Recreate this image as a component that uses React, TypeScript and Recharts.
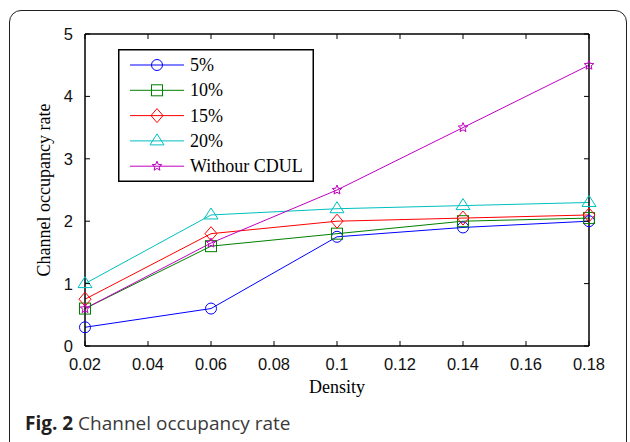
import React from "react";
import { LineChart, Line, XAxis, YAxis, Legend, Label } from "recharts";

const density = [0.02, 0.06, 0.1, 0.14, 0.18];
const rate5 = [0.3, 0.6, 1.75, 1.9, 2.0];
const rate10 = [0.6, 1.6, 1.8, 2.0, 2.05];
const rate15 = [0.75, 1.8, 2.0, 2.05, 2.1];
const rate20 = [1.0, 2.1, 2.2, 2.25, 2.3];
const rateNoCdul = [0.6, 1.65, 2.5, 3.5, 4.5];

const xTicks = [0.02, 0.04, 0.06, 0.08, 0.1, 0.12, 0.14, 0.16, 0.18];
const yTicks = [0, 1, 2, 3, 4, 5];

const series = [
  { key: "r5", name: "5%", color: "#0000ff", shape: "circle" },
  { key: "r10", name: "10%", color: "#008000", shape: "square" },
  { key: "r15", name: "15%", color: "#ff0000", shape: "diamond" },
  { key: "r20", name: "20%", color: "#00bfbf", shape: "triangle" },
  { key: "none", name: "Withour CDUL", color: "#bf00bf", shape: "star" },
];

const data = density.map((d, i) => ({
  density: d,
  r5: rate5[i],
  r10: rate10[i],
  r15: rate15[i],
  r20: rate20[i],
  none: rateNoCdul[i],
}));

const SANS = "'Liberation Sans', Arial, sans-serif";
const SERIF = "'Liberation Serif', 'Times New Roman', serif";

function starPoints(cx: number, cy: number, ro: number, ri: number) {
  const pts: string[] = [];
  for (let k = 0; k < 10; k++) {
    const r = k % 2 === 0 ? ro : ri;
    const a = -Math.PI / 2 + (k * Math.PI) / 5;
    pts.push(`${cx + r * Math.cos(a)},${cy + r * Math.sin(a)}`);
  }
  return pts.join(" ");
}

function Marker({ shape, cx, cy, color }: { shape: string; cx: number; cy: number; color: string }) {
  const common = { fill: "none", stroke: color, strokeWidth: 1 };
  if (shape === "circle") return <circle cx={cx} cy={cy} r={5.5} {...common} />;
  if (shape === "square") return <rect x={cx - 5.5} y={cy - 5.5} width={11} height={11} {...common} />;
  if (shape === "diamond")
    return <polygon points={`${cx},${cy - 7} ${cx + 6},${cy} ${cx},${cy + 7} ${cx - 6},${cy}`} {...common} />;
  if (shape === "triangle")
    return <polygon points={`${cx},${cy - 7} ${cx + 7},${cy + 4} ${cx - 7},${cy + 4}`} {...common} />;
  return <polygon points={starPoints(cx, cy, 5, 2.2)} {...common} />;
}

const renderDot = (shape: string, color: string) => (props: any) => (
  <g key={`${shape}-${props.index}`}>
    <Marker shape={shape} cx={props.cx} cy={props.cy} color={color} />
  </g>
);

const BottomTick = (props: any) => {
  const { x, y, payload } = props;
  return (
    <g>
      <line x1={x} y1={y} x2={x} y2={y - 5} stroke="#000" strokeWidth={1} />
      <text x={x} y={y + 24} textAnchor="middle" fontFamily={SANS} fontSize={16.5} fill="#111">
        {String(payload.value)}
      </text>
    </g>
  );
};

const LeftTick = (props: any) => {
  const { x, y, payload } = props;
  return (
    <g>
      <line x1={x} y1={y} x2={x + 5} y2={y} stroke="#000" strokeWidth={1} />
      <text x={x - 12} y={y + 6} textAnchor="end" fontFamily={SANS} fontSize={16.5} fill="#111">
        {String(payload.value)}
      </text>
    </g>
  );
};

const TopTick = (props: any) => (
  <line x1={props.x} y1={props.y} x2={props.x} y2={props.y + 5} stroke="#000" strokeWidth={1} />
);

const RightTick = (props: any) => (
  <line x1={props.x} y1={props.y} x2={props.x - 5} y2={props.y} stroke="#000" strokeWidth={1} />
);

const LegendBox = () => (
  <svg width={196} height={133} style={{ display: "block" }}>
    <rect x={0.75} y={0.75} width={194.5} height={131.5} fill="#fff" stroke="#000" strokeWidth={1.5} />
    {series.map((s, i) => {
      const cy = 16 + i * 25.3;
      return (
        <g key={s.key}>
          <line x1={12} y1={cy} x2={66} y2={cy} stroke={s.color} strokeWidth={1} />
          <Marker shape={s.shape} cx={39} cy={cy} color={s.color} />
          <text x={72} y={cy + 6} fontFamily={SERIF} fontSize={18} fill="#000">
            {s.name}
          </text>
        </g>
      );
    })}
  </svg>
);

export default function App() {
  return (
    <div
      style={{
        position: "absolute",
        left: 0,
        top: 0,
        width: 630,
        height: 442,
        overflow: "hidden",
        background: "#fff",
      }}
    >
      <div
        style={{
          position: "absolute",
          left: 9,
          top: 10,
          width: 616,
          height: 460,
          border: "1.5px solid #231f20",
          borderRadius: 12,
        }}
      />
      <div style={{ position: "absolute", left: 0, top: 0 }}>
        <LineChart width={630} height={410} data={data} margin={{ top: 24, right: 31, bottom: 14, left: 25 }}>
          <XAxis
            dataKey="density"
            type="number"
            domain={[0.02, 0.18]}
            ticks={xTicks}
            tickSize={0}
            tickMargin={0}
            tick={<BottomTick />}
            tickLine={false}
            axisLine={{ stroke: "#000", strokeWidth: 1.5 }}
            height={50}
            interval={0}
          >
            <Label value="Density" position="insideBottom" offset={3} fontFamily={SERIF} fontSize={18} fill="#000" />
          </XAxis>
          <XAxis
            xAxisId="top"
            dataKey="density"
            orientation="top"
            type="number"
            domain={[0.02, 0.18]}
            ticks={xTicks}
            tickSize={0}
            tickMargin={0}
            tick={<TopTick />}
            tickLine={false}
            axisLine={{ stroke: "#000", strokeWidth: 1.5 }}
            height={10}
            interval={0}
          />
          <YAxis
            type="number"
            domain={[0, 5]}
            ticks={yTicks}
            tickSize={0}
            tickMargin={0}
            tick={<LeftTick />}
            tickLine={false}
            axisLine={{ stroke: "#000", strokeWidth: 1.5 }}
            width={60}
            interval={0}
          >
            <Label
              value="Channel occupancy rate"
              angle={-90}
              position="insideLeft"
              offset={19}
              fontFamily={SERIF}
              fontSize={18}
              fill="#000"
              style={{ textAnchor: "middle" }}
            />
          </YAxis>
          <YAxis
            yAxisId="right"
            orientation="right"
            type="number"
            domain={[0, 5]}
            ticks={yTicks}
            tickSize={0}
            tickMargin={0}
            tick={<RightTick />}
            tickLine={false}
            axisLine={{ stroke: "#000", strokeWidth: 1.5 }}
            width={10}
            interval={0}
          />
          {/* invisible series so the top/right frame axes get a domain */}
          <Line
            xAxisId="top"
            yAxisId="right"
            dataKey="r5"
            stroke="none"
            dot={false}
            activeDot={false}
            legendType="none"
            isAnimationActive={false}
          />
          {series.map((s) => (
            <Line
              key={s.key}
              type="linear"
              dataKey={s.key}
              name={s.name}
              stroke={s.color}
              strokeWidth={1}
              dot={renderDot(s.shape, s.color)}
              activeDot={false}
              isAnimationActive={false}
            />
          ))}
          <Legend
            layout="vertical"
            align="center"
            verticalAlign="middle"
            content={<LegendBox />}
            wrapperStyle={{ position: "absolute", left: 118, top: 49, width: 196, height: 133 }}
          />
        </LineChart>
      </div>
      <div
        style={{
          position: "absolute",
          left: 25,
          top: 413,
          fontFamily: "'Open Sans', 'Noto Sans', sans-serif",
          fontSize: 19,
          lineHeight: "20px",
          color: "#3a3a3a",
          whiteSpace: "nowrap",
        }}
      >
        <span style={{ fontWeight: 700, color: "#231f20" }}>Fig. 2</span> Channel occupancy rate
      </div>
    </div>
  );
}
